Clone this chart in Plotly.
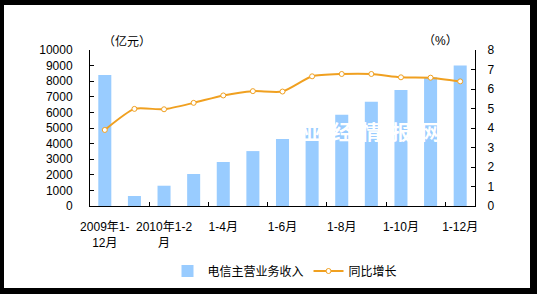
import plotly.graph_objects as go

categories = ["2009年1-12月", "2010年1月", "2010年1-2月", "1-3月", "1-4月", "1-5月", "1-6月",
              "1-7月", "1-8月", "1-9月", "1-10月", "1-11月", "1-12月"]
revenue = [8400, 640, 1300, 2050, 2820, 3520, 4300, 5000, 5850, 6690, 7440, 8250, 9000]
growth = [3.90, 4.98, 4.96, 5.29, 5.67, 5.89, 5.87, 6.65, 6.77, 6.77, 6.60, 6.58, 6.39]
tick_idx = [0, 2, 4, 6, 8, 10, 12]
tick_text = ["2009年1-<br>12月", "2010年1-2<br>月", "1-4月", "1-6月", "1-8月", "1-10月", "1-12月"]
watermark = ["业", "经", "情", "报", "网"]

FONT = "Liberation Sans, Noto Sans CJK SC, sans-serif"
BAR = "#99CCFF"
LINE = "#F0A020"

fig = go.Figure()
fig.add_trace(go.Bar(x=categories, y=revenue, name="电信主营业务收入",
                     marker=dict(color=BAR, line=dict(width=0)), width=0.44, yaxis="y"))
fig.add_trace(go.Scatter(x=categories, y=growth, name="同比增长", yaxis="y2",
                         mode="lines+markers", line=dict(color=LINE, width=2, shape="spline", smoothing=0.6),
                         marker=dict(symbol="circle", size=5, color="white", line=dict(color=LINE, width=1))))

# white panel inside a black frame
W, H = 537, 294
L, R, T, B = 90, 475, 50, 206
pw, ph = R - L, B - T
def px(x): return (x - L) / pw
def py(y): return (B - y) / ph
shapes = [dict(type="rect", xref="paper", yref="paper", x0=px(4), x1=px(530), y0=py(288), y1=py(5),
               fillcolor="white", line=dict(width=0), layer="below")]

annotations = [
    dict(text="（亿元）", xref="paper", yref="paper", x=px(101), y=py(32), showarrow=False,
         font=dict(size=12, color="black", family=FONT)),
    dict(text="（%）", xref="paper", yref="paper", x=px(460), y=py(32), showarrow=False,
         font=dict(size=12, color="black", family=FONT)),
]
for i, ch in enumerate(watermark):
    annotations.append(dict(text="<b>" + ch + "</b>", x=categories[7 + i], y=4750, xref="x", yref="y",
                            showarrow=False, font=dict(size=20, color="white", family="Noto Sans CJK SC")))

fig.update_layout(
    width=W, height=H,
    margin=dict(l=L, r=W - R, t=T, b=H - B, autoexpand=False),
    paper_bgcolor="black", plot_bgcolor="white",
    font=dict(family=FONT, size=12, color="black"),
    showlegend=True,
    legend=dict(orientation="h", xref="container", yref="container", x=285 / W, xanchor="center",
                y=1 - 271 / H, yanchor="middle",
                font=dict(size=12, family=FONT), bgcolor="rgba(0,0,0,0)", traceorder="normal",
                itemwidth=30),
    xaxis=dict(type="category", tickmode="array", tickvals=[categories[i] for i in tick_idx],
               ticktext=tick_text, showline=True, linecolor="black", linewidth=1,
               range=[-0.5, len(categories) - 0.5], autorange=False,
               ticks="inside", ticklen=4, tickcolor="black", tickson="boundaries",
               showgrid=False, tickangle=0, ticklabelstandoff=10, automargin=False),
    yaxis=dict(range=[0, 10000], dtick=1000, showline=True, linecolor="black", linewidth=1,
               ticks="inside", ticklen=4, tickcolor="black", showgrid=False, zeroline=False,
               ticklabelstandoff=14, tickformat="d", automargin=False),
    yaxis2=dict(range=[0, 8], dtick=1, overlaying="y", side="right", showline=True,
                linecolor="black", linewidth=1, ticks="inside", ticklen=4, tickcolor="black",
                showgrid=False, zeroline=False, ticklabelstandoff=9, automargin=False),
    shapes=shapes,
    annotations=annotations,
)

fig.write_html("out.html")
